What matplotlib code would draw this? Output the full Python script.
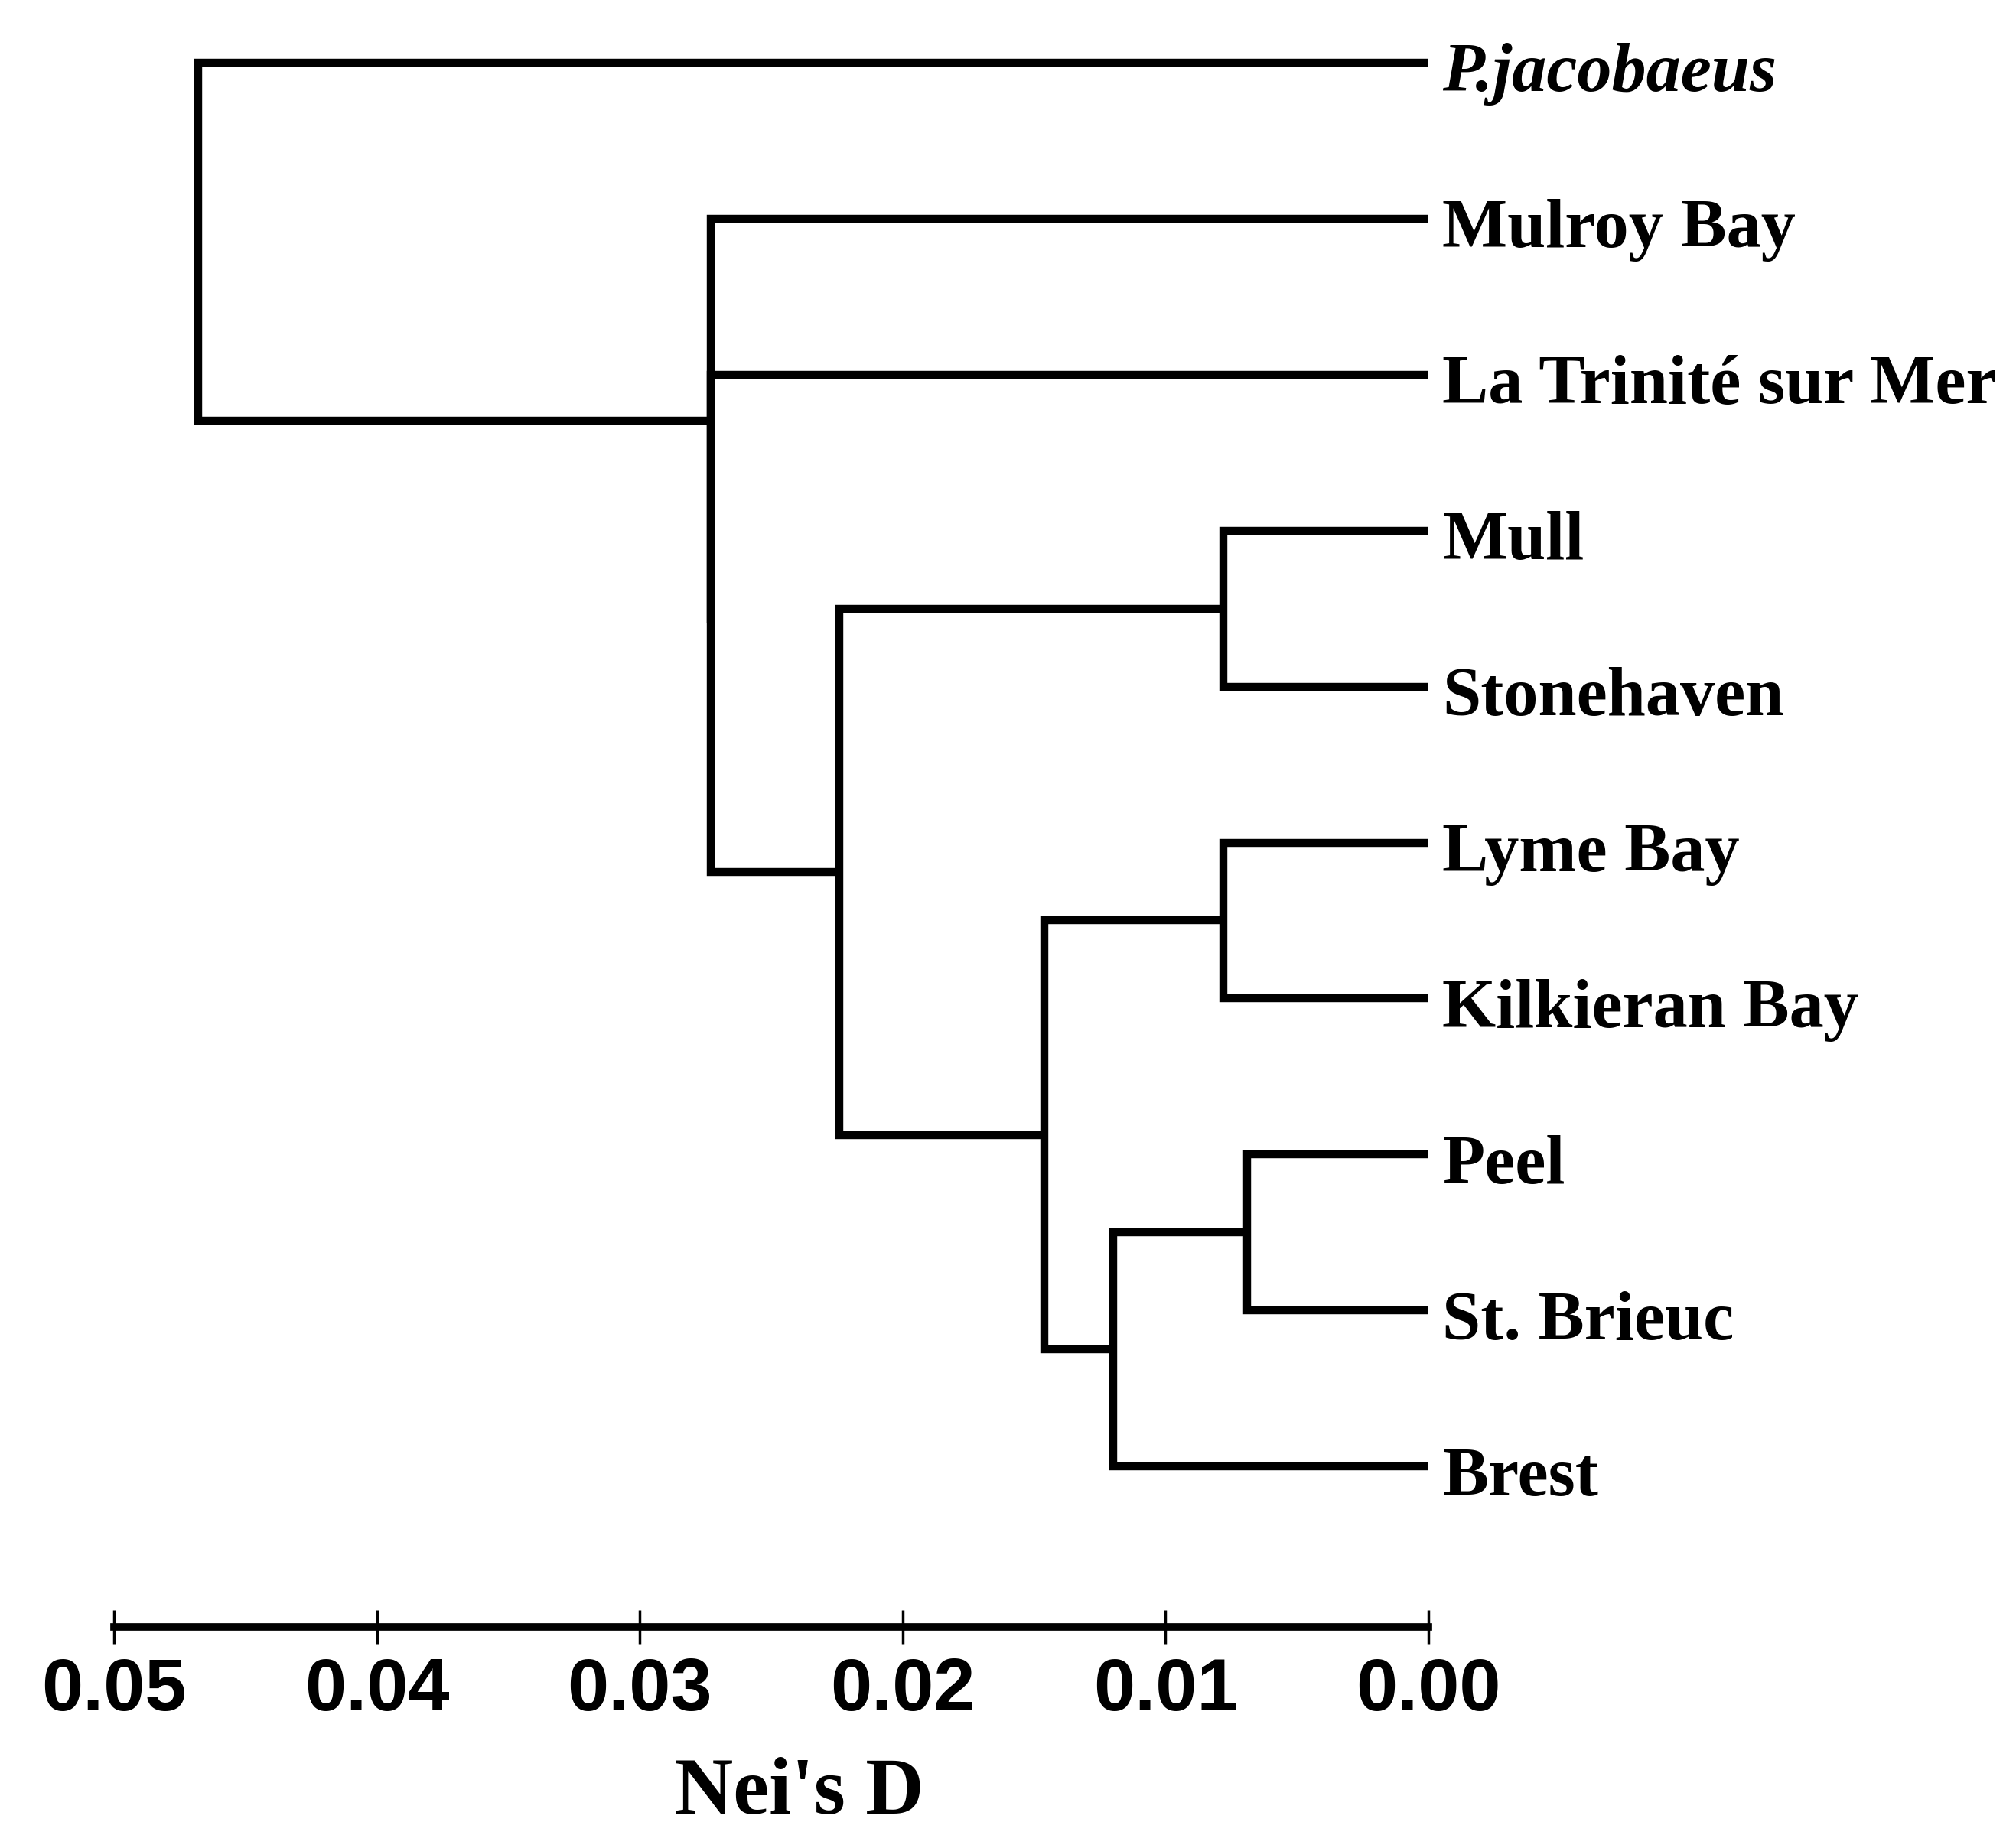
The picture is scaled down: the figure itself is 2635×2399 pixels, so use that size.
import matplotlib
matplotlib.use("Agg")
import matplotlib.pyplot as plt

# Populations, listed in leaf order from top to bottom
populations = ["P.jacobaeus", "Mulroy Bay", "La Trinité sur Mer", "Mull", "Stonehaven",
               "Lyme Bay", "Kilkieran Bay", "Peel", "St. Brieuc", "Brest"]

# Clustering steps: indices below len(populations) are leaves,
# len(populations) + k refers to the cluster formed at step k
merge_left = [3, 5, 7, 12, 11, 10, 2, 1, 0]
merge_right = [4, 6, 8, 9, 13, 14, 15, 16, 17]
merge_height = [0.0078, 0.0078, 0.0069, 0.0120, 0.0146, 0.0224, 0.0273, 0.0273, 0.0468]

# Distance scale
tick_values = [0.05, 0.04, 0.03, 0.02, 0.01, 0.00]
tick_labels = ["0.05", "0.04", "0.03", "0.02", "0.01", "0.00"]
axis_title = "Nei's D"

W, H, DPI = 2635, 2399, 100
fig = plt.figure(figsize=(W / DPI, H / DPI), dpi=DPI)
ax = fig.add_axes([149 / W, (H - 2127) / H, 1718 / W, 2127 / H])

n = len(populations)
node_x = [0.0] * n
node_y = [float(i) for i in range(n)]

lw = 7.5
for a, b, h in zip(merge_left, merge_right, merge_height):
    ax.plot([node_x[a], h, h, node_x[b]],
            [node_y[a], node_y[a], node_y[b], node_y[b]],
            color="black", lw=lw, solid_joinstyle="miter", solid_capstyle="butt")
    node_x.append(h)
    node_y.append((node_y[a] + node_y[b]) / 2.0)

for i, name in enumerate(populations):
    italic = name.startswith("P.")
    ax.annotate(name, xy=(0.0, node_y[i]), xytext=(13, -27), textcoords="offset points",
                ha="left", va="baseline", fontsize=65, fontweight="bold",
                fontstyle="italic" if italic else "normal",
                family="Liberation Serif", annotation_clip=False)

spacing = 203.9
top_px = 82.0
ax.set_ylim((2127 - top_px) / spacing, -top_px / spacing)
ax.set_xlim(0.05, 0.0)

for s in ("top", "left", "right"):
    ax.spines[s].set_visible(False)
ax.spines["bottom"].set_linewidth(7)
ax.set_yticks([])
ax.set_xticks(tick_values)
ax.set_xticklabels(tick_labels, family="Liberation Sans", fontweight="bold", fontsize=70)
ax.tick_params(axis="x", direction="inout", length=32, width=2.5, pad=12)
ax.set_xlabel(axis_title, family="Liberation Serif", fontweight="bold", fontsize=76)
ax.xaxis.set_label_coords((1045 - 149) / 1718, -(2345 - 2127) / 2127)
ax.xaxis.label.set_va("center")

fig.savefig("out.png", dpi=DPI, facecolor="white")
